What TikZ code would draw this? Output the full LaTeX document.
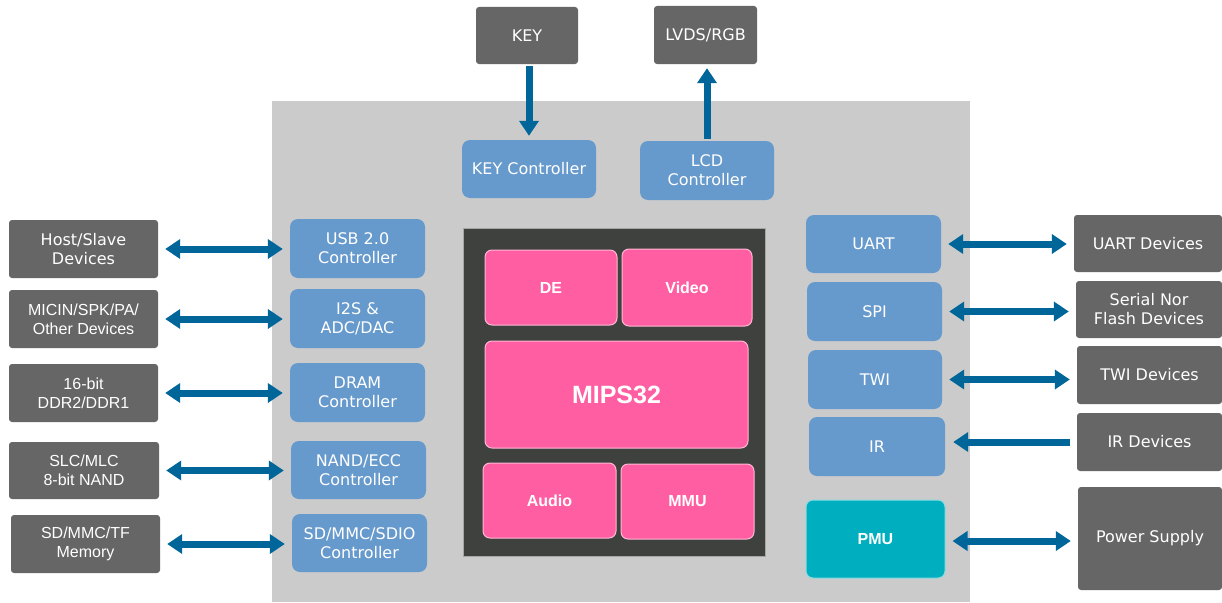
\documentclass[tikz,border=0pt]{standalone}
\usepackage{fontspec}
\usetikzlibrary{arrows.meta}
\newfontfamily\dvfont{DejaVu Sans}
\newfontfamily\libfont{Liberation Sans}
\definecolor{bggray}{HTML}{CBCBCB}
\definecolor{devgray}{HTML}{666666}
\definecolor{ctlblue}{HTML}{6699CC}
\definecolor{corepink}{HTML}{FF5FA2}
\definecolor{coredark}{HTML}{3F413E}
\definecolor{pmuteal}{HTML}{00AFBF}
\definecolor{arrowblue}{HTML}{006699}
\tikzset{
  box/.style={inner sep=0pt, align=center, text=white},
  dev/.style={box, fill=devgray, rounded corners=3pt, font=\dvfont\fontsize{16}{19}\selectfont},
  devA/.style={dev, font=\libfont\fontsize{16}{19}\selectfont},
  ctl/.style={box, fill=ctlblue, rounded corners=8pt, font=\dvfont\fontsize{16}{19}\selectfont},
  core/.style={box, fill=corepink, draw=corepink!45!white, line width=1pt, rounded corners=7pt, font=\libfont\bfseries\fontsize{16}{19}\selectfont},
  pmu/.style={box, fill=pmuteal, draw=pmuteal!45!white, line width=1pt, rounded corners=7pt, font=\libfont\bfseries\fontsize{16}{19}\selectfont},
  bi/.style={arrowblue, line width=7pt, {Triangle[length=15pt,width=19pt]}-{Triangle[length=15pt,width=19pt]}, shorten <=7pt, shorten >=7pt},
  uni/.style={arrowblue, line width=7pt, -{Triangle[length=15pt,width=19pt]}, shorten <=2pt, shorten >=4pt},
}
\begin{document}
\begin{tikzpicture}[x=1pt,y=-1pt]
\useasboundingbox (0,0) rectangle (1222,602);
\fill[white] (0,0) rectangle (1222,602);
% main chip background
\fill[bggray] (272,101) rectangle (970,602);
% core block
\node[fill=coredark, draw=gray!70, line width=0.6pt, minimum width=302pt, minimum height=328pt, inner sep=0pt] (corebg) at (614,392) {};
\node[core, minimum width=132pt, minimum height=75pt] (de) at (551,287.5) {DE};
\node[core, minimum width=130pt, minimum height=77pt] (video) at (687,287.5) {Video};
\node[core, minimum width=263pt, minimum height=107pt, font=\libfont\bfseries\fontsize{25}{28}\selectfont] (mips) at (616.5,394.5) {MIPS32};
\node[core, minimum width=133pt, minimum height=75pt] (audio) at (549.5,500.5) {Audio};
\node[core, minimum width=133pt, minimum height=75pt] (mmu) at (687.5,501.5) {MMU};
% top
\node[dev, minimum width=102pt, minimum height=57pt] (key) at (527,35.5) {KEY};
\node[dev, minimum width=103pt, minimum height=58pt] (lvds) at (705.5,35) {LVDS/RGB};
\node[ctl, minimum width=134pt, minimum height=58pt] (keyc) at (529,169) {KEY Controller};
\node[ctl, minimum width=134pt, minimum height=59pt] (lcdc) at (707,170.5) {LCD\\Controller};
% left devices
\node[dev, minimum width=149pt, minimum height=58pt] (host) at (83.5,249) {Host/Slave\\Devices};
\node[devA, minimum width=149pt, minimum height=58pt] (micin) at (83.5,319) {MICIN/SPK/PA/\\Other Devices};
\node[devA, minimum width=149pt, minimum height=58pt] (ddr) at (83.5,393) {16-bit\\DDR2/DDR1};
\node[devA, minimum width=150pt, minimum height=57pt] (nandd) at (84,470.5) {SLC/MLC\\8-bit NAND};
\node[devA, minimum width=149pt, minimum height=58pt] (sdd) at (85.5,544) {SD/MMC/TF\\Memory};
% left controllers
\node[ctl, minimum width=135pt, minimum height=59pt] (usb) at (357.5,248.5) {USB 2.0\\Controller};
\node[ctl, minimum width=135pt, minimum height=59pt] (i2s) at (357.5,318.5) {I2S \&\\ADC/DAC};
\node[ctl, minimum width=135pt, minimum height=59pt] (dram) at (357.5,392.5) {DRAM\\Controller};
\node[ctl, minimum width=135pt, minimum height=58pt] (nand) at (358.5,470) {NAND/ECC\\Controller};
\node[ctl, minimum width=135pt, minimum height=58pt] (sdio) at (359.5,543) {SD/MMC/SDIO\\Controller};
% right controllers
\node[ctl, minimum width=135pt, minimum height=58pt] (uart) at (873.5,244) {UART};
\node[ctl, minimum width=135pt, minimum height=59pt] (spi) at (874.5,311.5) {SPI};
\node[ctl, minimum width=134pt, minimum height=59pt] (twi) at (875,379.5) {TWI};
\node[ctl, minimum width=136pt, minimum height=59pt] (ir) at (877,446.5) {IR};
\node[pmu, minimum width=139pt, minimum height=78pt] (pmu) at (875.5,539) {PMU};
% right devices
\node[dev, minimum width=148pt, minimum height=57pt] (uartd) at (1148,243.5) {UART Devices};
\node[dev, minimum width=146pt, minimum height=57pt] (snf) at (1149,309.5) {Serial Nor\\Flash Devices};
\node[dev, minimum width=145pt, minimum height=58pt] (twid) at (1149.5,375) {TWI Devices};
\node[dev, minimum width=145pt, minimum height=58pt] (ird) at (1149.5,442) {IR Devices};
\node[dev, minimum width=144pt, minimum height=103pt] (ps) at (1150,538.5) {Power Supply};
% arrows
\draw[uni] (keyc.north |- key.south) -- (keyc.north);
\draw[uni] (lcdc.north) -- (lcdc.north |- lvds.south);
\draw[bi] (host.east) -- (host.east -| usb.west);
\draw[bi] (micin.east) -- (micin.east -| i2s.west);
\draw[bi] (ddr.east) -- (ddr.east -| dram.west);
\draw[bi] (nandd.east) -- (nandd.east -| nand.west);
\draw[bi] (sdd.east) -- (sdd.east -| sdio.west);
\draw[bi] (uart.east) -- (uart.east -| uartd.west);
\draw[bi] (spi.east) -- (spi.east -| snf.west);
\draw[bi] (twi.east) -- (twi.east -| twid.west);
\draw[uni, shorten <=7pt, shorten >=8pt] (ird.west) -- (ird.west -| ir.east);
\draw[bi] ([yshift=-2pt]pmu.east) -- ([yshift=-2pt]pmu.east -| ps.west);
\end{tikzpicture}
\end{document}
